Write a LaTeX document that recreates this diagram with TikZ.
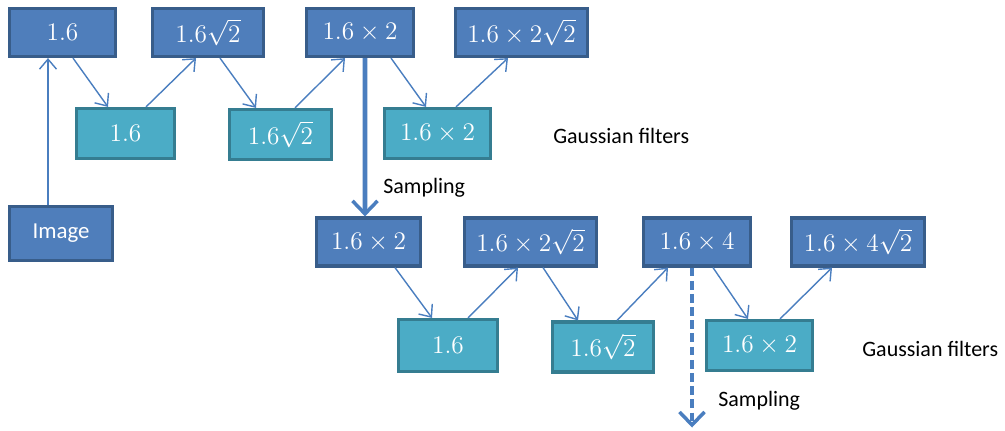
\documentclass[tikz,border=0pt]{standalone}
\usepackage{fontspec}
\setmainfont{Carlito}
\usepackage{tikz}
\usetikzlibrary{arrows.meta,positioning}
\tikzset{%
  arrow/.style={draw=myarrow,line width=0.8pt,-{Straight Barb[length=2mm,width=3.4mm]}},
  bigarrow/.style={draw=myarrow,line width=2.8pt,-{Straight Barb[length=2.6mm,width=5mm,line width=2pt]}},
  octbox/.style={rectangle,draw=myblueline,line width=1.8pt,fill=myblue,text=white,minimum height=0.96cm,font=\fontsize{15}{17}\selectfont},
  gaussbox/.style={rectangle,draw=mytealline,line width=1.8pt,fill=myteal,text=white,minimum height=1cm,font=\fontsize{15}{17}\selectfont},
  caption/.style={anchor=west,inner sep=0pt,font=\fontsize{12.5}{14}\selectfont},
}
\definecolor{myblue}{HTML}{4F7EBB}
\definecolor{myblueline}{HTML}{385D8A}
\definecolor{myteal}{HTML}{4BACC6}
\definecolor{mytealline}{HTML}{357D91}
\definecolor{myarrow}{HTML}{4A7EBF}

\begin{document}
\begin{tikzpicture}
      \useasboundingbox (0,0) rectangle (20.1,-8.6);

      % first octave
      \node[octbox,minimum width=2.12cm] (node_s1) at (1.25,-0.65) {$1.6$};
      \node[octbox,minimum width=2.22cm] (node_s2) at (4.16,-0.65) {$1.6\sqrt{2}$};
      \node[octbox,minimum width=2.14cm] (node_s3) at (7.2,-0.65) {$1.6\times 2$};
      \node[octbox,minimum width=2.64cm] (node_s4) at (10.43,-0.65) {$1.6\times 2\sqrt{2}$};

      \node[gaussbox,minimum width=1.96cm] (node_g1) at (2.51,-2.67) {$1.6$};
      \node[gaussbox,minimum width=2.04cm] (node_g2) at (5.61,-2.69) {$1.6\sqrt{2}$};
      \node[gaussbox,minimum width=2.12cm] (node_g3) at (8.75,-2.67) {$1.6\times 2$};

      \node[octbox,minimum width=2.06cm,minimum height=1.08cm,font=\fontsize{13}{15}\selectfont] (node_image) at (1.22,-4.67) {Image};

      % second octave
      \node[octbox,minimum width=2.08cm] (node_t1) at (7.37,-4.84) {$1.6\times 2$};
      \node[octbox,minimum width=2.64cm] (node_t2) at (10.61,-4.84) {$1.6\times 2\sqrt{2}$};
      \node[octbox,minimum width=2.14cm] (node_t3) at (13.94,-4.84) {$1.6\times 4$};
      \node[octbox,minimum width=2.66cm] (node_t4) at (17.16,-4.84) {$1.6\times 4\sqrt{2}$};

      \node[gaussbox,minimum width=1.98cm,minimum height=1.04cm] (node_h1) at (8.96,-6.91) {$1.6$};
      \node[gaussbox,minimum width=2.02cm] (node_h2) at (12.06,-6.94) {$1.6\sqrt{2}$};
      \node[gaussbox,minimum width=2.12cm] (node_h3) at (15.19,-6.91) {$1.6\times 2$};

      \node[caption] (cap_gauss1) at (11.06,-2.72) {Gaussian filters};
      \node[caption] (cap_gauss2) at (17.24,-6.98) {Gaussian filters};
      \node[caption] (cap_samp1) at (7.66,-3.76) {Sampling};
      \node[caption] (cap_samp2) at (14.36,-8.02) {Sampling};

      \coordinate (node_down) at (13.84,-8.55);

      \draw[arrow] ([xshift=-0.26cm]node_image.north) -- ([xshift=-0.29cm]node_s1.south);

      \draw[arrow] ([xshift=0.21cm]node_s1.south) -- ([xshift=-0.35cm]node_g1.north);
      \draw[arrow] ([xshift=0.41cm]node_g1.north) -- ([xshift=-0.24cm]node_s2.south);
      \draw[arrow] ([xshift=0.24cm]node_s2.south) -- ([xshift=-0.49cm]node_g2.north);
      \draw[arrow] ([xshift=0.29cm]node_g2.north) -- ([xshift=-0.30cm]node_s3.south);
      \draw[arrow] ([xshift=0.62cm]node_s3.south) -- ([xshift=-0.23cm]node_g3.north);
      \draw[arrow] ([xshift=0.37cm]node_g3.north) -- ([xshift=-0.27cm]node_s4.south);

      \draw[arrow] ([xshift=0.53cm]node_t1.south) -- ([xshift=-0.32cm]node_h1.north);
      \draw[arrow] ([xshift=0.40cm]node_h1.north) -- ([xshift=-0.25cm]node_t2.south);
      \draw[arrow] ([xshift=0.25cm]node_t2.south) -- ([xshift=-0.50cm]node_h2.north);
      \draw[arrow] ([xshift=0.28cm]node_h2.north) -- ([xshift=-0.58cm]node_t3.south);
      \draw[arrow] ([xshift=0.32cm]node_t3.south) -- ([xshift=-0.23cm]node_h3.north);
      \draw[arrow] ([xshift=0.41cm]node_h3.north) -- ([xshift=-0.52cm]node_t4.south);

      \draw[bigarrow] ([xshift=0.10cm]node_s3.south) -- ([xshift=-0.07cm]node_t1.north);
      \draw[bigarrow,dash pattern=on 5pt off 2.5pt] ([xshift=-0.10cm]node_t3.south) -- (node_down);
    \end{tikzpicture}
\end{document}
